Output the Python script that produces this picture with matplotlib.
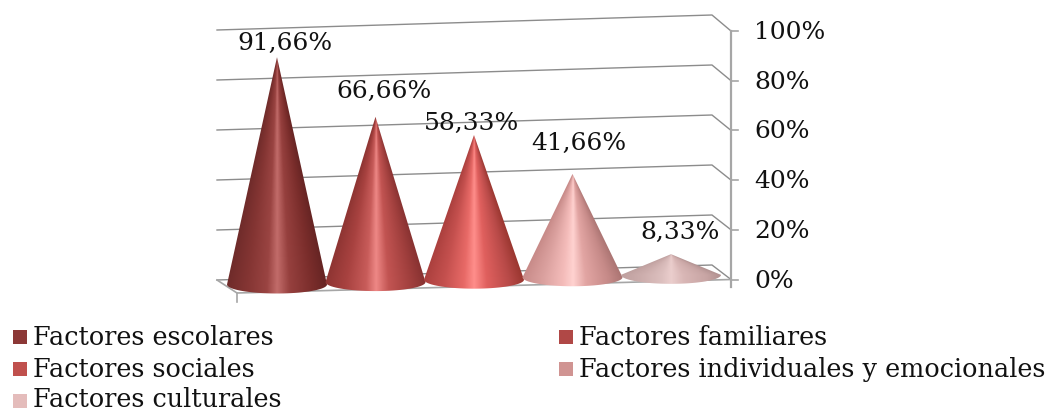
import numpy as np
import matplotlib
matplotlib.use("Agg")
import matplotlib.pyplot as plt
from matplotlib.patches import PathPatch, Rectangle
from matplotlib.path import Path
from matplotlib.colors import to_rgb

W, H = 1048, 409

categories = ["Factores escolares", "Factores familiares", "Factores sociales",
              "Factores individuales y emocionales", "Factores culturales"]
values = [91.66, 66.66, 58.33, 41.66, 8.33]
value_labels = ["91,66%", "66,66%", "58,33%", "41,66%", "8,33%"]
legend_colors = ["#8c3836", "#b04846", "#c0504d", "#d09492", "#e4bcbb"]
ticks = [0, 20, 40, 60, 80, 100]
tick_labels = ["0%", "20%", "40%", "60%", "80%", "100%"]

# lit / shaded tones across each cone, left edge to right edge
cone_tones = [
    ["#6f2b2a", "#843533", "#9a4442", "#c26c6a", "#96403e", "#7a2d2b", "#652423"],
    ["#8f3533", "#a84240", "#c85c5a", "#ee8886", "#c25452", "#a03f3d", "#863130"],
    ["#ab403e", "#c4504e", "#e86a67", "#ff8e8b", "#e0605e", "#b84a48", "#99362f"],
    ["#c88b89", "#dba19f", "#f4bcba", "#ffd2d0", "#e2a5a3", "#c68a88", "#a97371"],
    ["#bfa09f", "#ccadac", "#dcbfbe", "#ebcecd", "#d9b7b6", "#c8a5a4", "#b19190"],
]
tone_stops = [-1.0, -0.6, -0.2, 0.0, 0.25, 0.7, 1.0]

# label centre relative to the cone tip, in px
label_dx = [8, 8, -2, 6, 9]
label_dy = [-14, -25, -12, -30, -22]

# projection of the 3D frame onto the canvas, in px
px_per_pct = 2.48
wall_px_per_pct = 2.5
axis_px_per_pct = 2.485
first_x, step_x = 277, 98.5
base_y0, base_slope = 284.5, -0.0245
half_w, half_h = 50, 9
axis_x, axis_y0 = 731, 279.5
wall_l, wall_r = 217, 712
wall_yl, wall_yr = 280, 265
front_x, front_y = 237, 293

fig = plt.figure(figsize=(W / 100, H / 100), dpi=100)
ax = fig.add_axes([0, 0, 1, 1])
ax.set_xlim(0, W)
ax.set_ylim(H, 0)
ax.axis("off")

font = "DejaVu Serif"
grid_c, axis_c = "#8c8c8c", "#a6a6a6"

# back wall gridlines and their returns to the axis
for t, lab in zip(ticks, tick_labels):
    dy = t * wall_px_per_pct
    tick_y = axis_y0 - t * axis_px_per_pct
    ax.plot([wall_l, wall_r, axis_x], [wall_yl - dy, wall_yr - dy, tick_y],
            color=grid_c, lw=1.0, zorder=1)
    ax.plot([axis_x, axis_x + 7], [tick_y, tick_y], color=axis_c, lw=1.2, zorder=1)
    ax.text(754, tick_y + 1.5, lab, family=font, fontsize=18, va="center", ha="left",
            color="#111111", zorder=5)

# floor
ax.plot([wall_l, front_x, axis_x], [wall_yl, front_y, axis_y0], color=axis_c, lw=1.2, zorder=1)
ax.plot([front_x, front_x], [front_y, 302], color=axis_c, lw=1.2, zorder=1)
ax.plot([axis_x, axis_x], [axis_y0 - 100 * axis_px_per_pct, 287], color=axis_c, lw=1.6, zorder=1)


def draw_cone(cx, value, tones):
    base_y = base_y0 + base_slope * (cx - first_x)
    tip_y = base_y - value * px_per_pct
    xs = np.arange(cx - half_w - 1, cx + half_w + 1, 0.5)
    ys = np.arange(tip_y - 1, base_y + half_h + 1, 0.5)
    X, Y = np.meshgrid(xs, ys)
    # shade along the surface, so the bands run up to the tip
    frac = np.clip((Y - tip_y) / (base_y - tip_y), 0.01, 1)
    u = np.clip((X - cx) / (half_w * frac), -1, 1)
    rgb = np.array([to_rgb(c) for c in tones])
    img = np.stack([np.interp(u, tone_stops, rgb[:, k]) for k in range(3)], axis=-1)
    im = ax.imshow(img, extent=[xs[0], xs[-1], ys[-1], ys[0]], aspect="auto", zorder=3,
                   interpolation="bilinear")
    ax.set_xlim(0, W)
    ax.set_ylim(H, 0)

    # outline: tip down to the rim, around the front half of the base
    t = np.linspace(np.pi, 0, 40)
    rim_x = cx + half_w * np.cos(t)
    rim_y = base_y + half_h * np.sin(t)
    verts = [(cx, tip_y)] + list(zip(rim_x, rim_y)) + [(cx, tip_y)]
    codes = [Path.MOVETO] + [Path.LINETO] * (len(verts) - 2) + [Path.CLOSEPOLY]
    clip = PathPatch(Path(verts, codes), transform=ax.transData, fc="none", ec="none")
    ax.add_patch(clip)
    im.set_clip_path(clip)
    return tip_y


for i, (v, lab) in enumerate(zip(values, value_labels)):
    cx = first_x + i * step_x
    tip_y = draw_cone(cx, v, cone_tones[i])
    ax.text(cx + label_dx[i], tip_y + label_dy[i], lab, family=font, fontsize=18,
            ha="center", va="center", color="#111111", zorder=6)

# legend, two columns
swatch_y = [337, 369, 401]
baselines = [345, 377, 407]
cols = [13, 559]
for i, (name, c) in enumerate(zip(categories, legend_colors)):
    x, row = cols[i % 2], i // 2
    ax.add_patch(Rectangle((x, swatch_y[row] - 7), 14, 14, fc=c, ec="none", zorder=4))
    ax.text(x + 20, baselines[row], name, family=font, fontsize=18.4, ha="left", va="baseline",
            color="#111111", zorder=5)

fig.savefig("out.png", dpi=100)
